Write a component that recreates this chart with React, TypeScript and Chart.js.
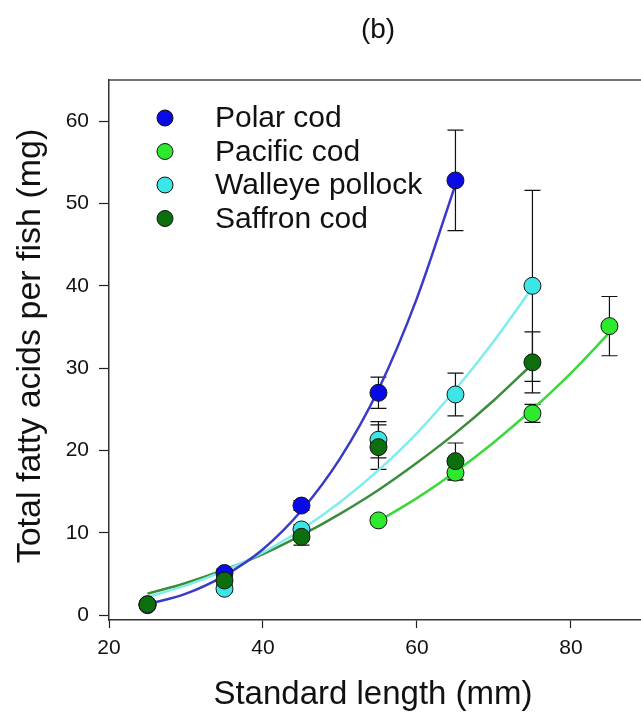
import React, { useEffect, useRef } from 'react';
import { Chart, registerables } from 'chart.js';

Chart.register(...registerables);

const FONT = "'Liberation Sans', Arial, Helvetica, sans-serif";

const PANEL_TITLE = '(b)';
const X_TITLE = 'Standard length (mm)';
const Y_TITLE = 'Total fatty acids per fish (mg)';

const SERIES_NAMES = ['Polar cod', 'Pacific cod', 'Walleye pollock', 'Saffron cod'];
const POINT_COLORS = ['#0a0ae6', '#2eea2e', '#3ce6e6', '#0c6e0c'];
const LINE_COLORS = ['#3a3ac8', '#3ad83a', '#80eded', '#3c8c3c'];

// observed means and error bars
const POLAR_X = [25, 35, 45, 55, 65];
const POLAR_Y = [1.3, 5.1, 13.3, 27.0, 52.8];
const POLAR_ERR = [0.3, 0.5, 0.6, 1.9, 6.1];

const PACIFIC_X = [55, 65, 75, 85];
const PACIFIC_Y = [11.5, 17.3, 24.5, 35.1];
const PACIFIC_ERR = [0.4, 0.9, 1.1, 3.6];

const WALLEYE_X = [25, 35, 45, 55, 65, 75];
const WALLEYE_Y = [1.2, 3.2, 10.4, 21.3, 26.8, 40.0];
const WALLEYE_ERR = [0.2, 0.4, 0.6, 2.2, 2.6, 11.6];

const SAFFRON_X = [25, 35, 45, 55, 65, 75];
const SAFFRON_Y = [1.3, 4.2, 9.5, 20.4, 18.7, 30.7];
const SAFFRON_ERR = [0.3, 0.5, 1.0, 2.7, 2.2, 3.7];

// fitted curves
const POLAR_FIT_X = [25, 30, 35, 40, 45, 50, 55, 60, 65];
const POLAR_FIT_Y = [1.3, 2.6, 4.8, 8.0, 12.7, 19.0, 27.4, 38.5, 52.3];

const PACIFIC_FIT_X = [55, 60, 65, 70, 75, 80, 85];
const PACIFIC_FIT_Y = [11.4, 14.2, 17.4, 21.0, 25.0, 29.4, 34.3];

const WALLEYE_FIT_X = [25, 30, 35, 40, 45, 50, 55, 60, 65, 70, 75];
const WALLEYE_FIT_Y = [2.2, 3.6, 5.4, 7.6, 10.4, 13.7, 17.6, 22.1, 27.4, 33.3, 39.8];

const SAFFRON_FIT_X = [25, 30, 35, 40, 45, 50, 55, 60, 65, 70, 75];
const SAFFRON_FIT_Y = [2.6, 3.9, 5.5, 7.4, 9.7, 12.3, 15.2, 18.5, 22.1, 26.1, 30.5];

const X_TICKS = [20, 40, 60, 80];
const Y_TICKS = [0, 10, 20, 30, 40, 50, 60];

const toPts = (xs: number[], ys: number[]) => xs.map((x, i) => ({ x, y: ys[i] }));

const errorBarPlugin = {
  id: 'errorBars',
  beforeDatasetsDraw(chart: any) {
    const ctx = chart.ctx;
    const xs = chart.scales.x;
    const ys = chart.scales.y;
    ctx.save();
    ctx.strokeStyle = '#111';
    ctx.lineWidth = 1.2;
    chart.data.datasets.forEach((ds: any) => {
      if (!ds.errors) return;
      ds.data.forEach((p: any, i: number) => {
        const e = ds.errors[i];
        const px = xs.getPixelForValue(p.x);
        const yt = ys.getPixelForValue(p.y + e);
        const yb = ys.getPixelForValue(p.y - e);
        ctx.beginPath();
        ctx.moveTo(px, yt);
        ctx.lineTo(px, yb);
        ctx.moveTo(px - 8, yt);
        ctx.lineTo(px + 8, yt);
        ctx.moveTo(px - 8, yb);
        ctx.lineTo(px + 8, yb);
        ctx.stroke();
      });
    });
    ctx.restore();
  },
};

const decorPlugin = {
  id: 'decor',
  afterDraw(chart: any) {
    const ctx = chart.ctx;
    const area = chart.chartArea;
    ctx.save();
    // top frame
    ctx.strokeStyle = '#444';
    ctx.lineWidth = 1.5;
    ctx.beginPath();
    ctx.moveTo(area.left, area.top);
    ctx.lineTo(chart.width, area.top);
    ctx.stroke();

    ctx.fillStyle = '#111';
    // panel title
    ctx.font = `28px ${FONT}`;
    ctx.textAlign = 'center';
    ctx.textBaseline = 'middle';
    ctx.fillText(PANEL_TITLE, 378, 30);
    // x title
    ctx.font = `33px ${FONT}`;
    ctx.fillText(X_TITLE, 373, 695);
    // y title
    ctx.save();
    ctx.font = `34px ${FONT}`;
    ctx.translate(31, 346);
    ctx.rotate(-Math.PI / 2);
    ctx.fillText(Y_TITLE, 0, 0);
    ctx.restore();

    // legend
    const rowY = [118, 151.5, 185, 218.5];
    SERIES_NAMES.forEach((name, i) => {
      ctx.beginPath();
      ctx.arc(165, rowY[i], 8, 0, Math.PI * 2);
      ctx.fillStyle = POINT_COLORS[i];
      ctx.fill();
      ctx.strokeStyle = '#111';
      ctx.lineWidth = 1;
      ctx.stroke();
      ctx.fillStyle = '#111';
      ctx.font = `30px ${FONT}`;
      ctx.textAlign = 'left';
      ctx.textBaseline = 'middle';
      ctx.fillText(name, 215, rowY[i] + 1);
    });
    ctx.restore();
  },
};

export default function App() {
  const ref = useRef<HTMLCanvasElement>(null);

  useEffect(() => {
    if (!ref.current) return;
    const lineDs = (xs: number[], ys: number[], i: number) => ({
      label: SERIES_NAMES[i] + ' fit',
      data: toPts(xs, ys),
      showLine: true,
      borderColor: LINE_COLORS[i],
      borderWidth: 2.5,
      pointRadius: 0,
      cubicInterpolationMode: 'monotone' as const,
      fill: false,
      order: 10 + i,
    });
    const pointDs = (xs: number[], ys: number[], errs: number[], i: number, order: number) => ({
      label: SERIES_NAMES[i],
      data: toPts(xs, ys),
      errors: errs,
      showLine: false,
      pointRadius: 8.5,
      pointBackgroundColor: POINT_COLORS[i],
      pointBorderColor: '#111',
      pointBorderWidth: 1,
      order,
    });

    const chart = new Chart(ref.current, {
      type: 'scatter',
      data: {
        datasets: [
          lineDs(POLAR_FIT_X, POLAR_FIT_Y, 0),
          lineDs(PACIFIC_FIT_X, PACIFIC_FIT_Y, 1),
          lineDs(WALLEYE_FIT_X, WALLEYE_FIT_Y, 2),
          lineDs(SAFFRON_FIT_X, SAFFRON_FIT_Y, 3),
          pointDs(POLAR_X, POLAR_Y, POLAR_ERR, 0, 4),
          pointDs(PACIFIC_X, PACIFIC_Y, PACIFIC_ERR, 1, 3),
          pointDs(WALLEYE_X, WALLEYE_Y, WALLEYE_ERR, 2, 2),
          pointDs(SAFFRON_X, SAFFRON_Y, SAFFRON_ERR, 3, 1),
        ] as any,
      },
      options: {
        animation: false,
        responsive: false,
        devicePixelRatio: 1,
        layout: { autoPadding: false, padding: { top: 80, left: 0, right: 0, bottom: 0 } },
        plugins: {
          legend: { display: false },
          tooltip: { enabled: false },
          title: { display: false },
        },
        scales: {
          x: {
            type: 'linear',
            min: 20,
            max: 89.1,
            afterBuildTicks: (s: any) => {
              s.ticks = X_TICKS.map((v) => ({ value: v }));
            },
            afterFit: (s: any) => {
              s.height = 99;
              s.paddingLeft = 0;
              s.paddingRight = 0;
            },
            grid: { drawOnChartArea: false, drawTicks: true, tickLength: 8, tickColor: '#222', tickWidth: 1.2 },
            border: { display: true, color: '#333', width: 1.5 },
            ticks: { font: { family: FONT, size: 21 }, color: '#111', padding: 8, maxRotation: 0, autoSkip: false },
          },
          y: {
            type: 'linear',
            min: -0.6,
            max: 65,
            afterBuildTicks: (s: any) => {
              s.ticks = Y_TICKS.map((v) => ({ value: v }));
            },
            afterFit: (s: any) => {
              s.width = 109;
              s.paddingTop = 0;
              s.paddingBottom = 0;
            },
            grid: { drawOnChartArea: false, drawTicks: true, tickLength: 10, tickColor: '#222', tickWidth: 1.2 },
            border: { display: true, color: '#333', width: 1.5 },
            ticks: { font: { family: FONT, size: 21 }, color: '#111', padding: 10, autoSkip: false },
          },
        },
      } as any,
      plugins: [errorBarPlugin, decorPlugin],
    });
    return () => chart.destroy();
  }, []);

  return (
    <div
      style={{
        position: 'absolute',
        left: 0,
        top: 0,
        width: 641,
        height: 719,
        overflow: 'hidden',
        background: '#fff',
      }}
    >
      <canvas ref={ref} width={641} height={719} style={{ display: 'block', width: 641, height: 719 }} />
    </div>
  );
}
